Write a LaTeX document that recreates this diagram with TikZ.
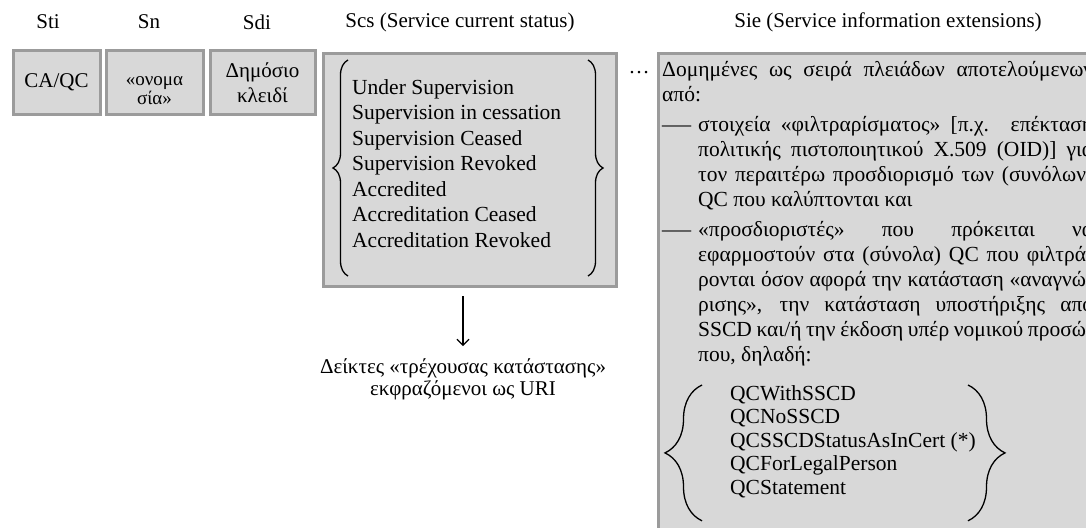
\documentclass[tikz,border=0pt]{standalone}
\usepackage{fontspec}
\setmainfont{Liberation Serif}
\usetikzlibrary{positioning, decorations.pathreplacing, arrows.meta}
\definecolor{boxfill}{RGB}{216, 216, 216}
\definecolor{boxline}{RGB}{155, 155, 155}

\begin{document}
\begin{tikzpicture}[x=1pt,y=-1pt]%
        \tikzstyle{head} = [font=\fontsize{21}{25}\selectfont, inner sep=0pt]
        \tikzstyle{cell} = [draw=boxline, fill=boxfill, line width=3pt, minimum height=63pt, inner sep=0pt, align=center, font=\fontsize{21}{25}\selectfont]
        \tikzstyle{bigcell} = [draw=boxline, fill=boxfill, line width=3pt, inner sep=0pt, anchor=north west]
        \tikzstyle{list} = [anchor=north west, align=left, inner sep=0pt]
        \tikzstyle{curly} = [decorate, line width=1.3pt]
        \tikzstyle{arrow} = [-{Straight Barb[length=6pt, width=12pt]}, line width=1.3pt]

        \useasboundingbox (0,0) rectangle (1086,527);
        \clip (0,0) rectangle (1086,527);

        % column heads
        \node[head] (hsti) at (48,22) {Sti};
        \node[head] (hsn) at (149,22) {Sn};
        \node[head] (hsdi) at (257,22) {Sdi};
        \node[head] (hscs) at (460,22) {Scs (Service current status)};
        \node[head] (hsie) at (888,22) {Sie (Service information extensions)};

        % small cells
        \node[cell, minimum width=87pt] (sti) at (56.5,82.5) {CA/QC};
        \node[cell, minimum width=97pt] (sn) at (154.5,82.5) {};
        \node[align=center, inner sep=0pt, font=\fontsize{19}{19}\selectfont] (sntext) at ([yshift=-8pt]sn.center) {«ονομα\\σία»};
        \node[cell, minimum width=105pt] (sdi) at (262.5,82.5) {Δημόσιο\\κλειδί};

        % current status
        \node[bigcell, minimum width=293pt, minimum height=233pt] (scs) at (322,52) {};
        \node[list, font=\fontsize{21.5}{25.5}\selectfont] (scslist) at (352,79) {Under Supervision\\Supervision in cessation\\Supervision Ceased\\Supervision Revoked\\Accredited\\Accreditation Ceased\\Accreditation Revoked};
        \draw[curly, decoration={brace, amplitude=15pt}] ([xshift=26pt, yshift=12pt]scs.south west) -- ([xshift=26pt, yshift=-8pt]scs.north west);
        \draw[curly, decoration={brace, amplitude=15pt}] ([xshift=-30pt, yshift=-8pt]scs.north east) -- ([xshift=-30pt, yshift=12pt]scs.south east);

        \node[head, align=center, font=\fontsize{21}{22}\selectfont] (uri) at (463,379) {Δείκτες «τρέχουσας κατάστασης»\\εκφραζόμενοι ως URI};
        \draw[arrow, shorten <=8pt, shorten >=12pt] (scs.south -| uri.north) -- (uri.north);

        \node[head] (dots) at (639,73) {…};

        % information extensions
        \node[bigcell, minimum width=470pt, minimum height=500pt] (sie) at (657,52) {};
        \node[anchor=north west, text width=431pt, align=justify, inner sep=0pt, font=\fontsize{21.5}{25}\selectfont] (sietext) at (662,61) {%
          \setlength{\parskip}{5pt}\setlength{\parindent}{0pt}%
          Δομημένες ως σειρά πλειάδων αποτελούμενων\linebreak από:\par
          \hangindent=36pt\hangafter=1 \makebox[36pt][l]{\scalebox{1.35}[1]{—}}στοιχεία «φιλτραρίσματος» [π.χ. επέκταση\linebreak πολιτικής πιστοποιητικού X.509 (OID)] για\linebreak τον περαιτέρω προσδιορισμό των (συνόλων)\linebreak QC που καλύπτονται και\par
          \hangindent=36pt\hangafter=1 \makebox[36pt][l]{\scalebox{1.35}[1]{—}}«προσδιοριστές» που πρόκειται να\linebreak εφαρμοστούν στα (σύνολα) QC που φιλτρά-\linebreak ρονται όσον αφορά την κατάσταση «αναγνώ-\linebreak ρισης», την κατάσταση υποστήριξης από\linebreak SSCD και/ή την έκδοση υπέρ νομικού προσώ-\linebreak που, δηλαδή:\par};
        \node[list, font=\fontsize{21.5}{23.5}\selectfont] (qclist) at (730,385) {QCWithSSCD\\QCNoSSCD\\QCSSCDStatusAsInCert (*)\\QCForLegalPerson\\QCStatement};
        \draw[curly, decoration={brace, amplitude=37pt}] ([xshift=-28pt, yshift=-23pt]qclist.south west) -- ([xshift=-28pt]qclist.north west);
        \draw[curly, decoration={brace, amplitude=37pt}] ([xshift=238pt]qclist.north west) -- ([xshift=238pt, yshift=-23pt]qclist.south west);
      \end{tikzpicture}
\end{document}
